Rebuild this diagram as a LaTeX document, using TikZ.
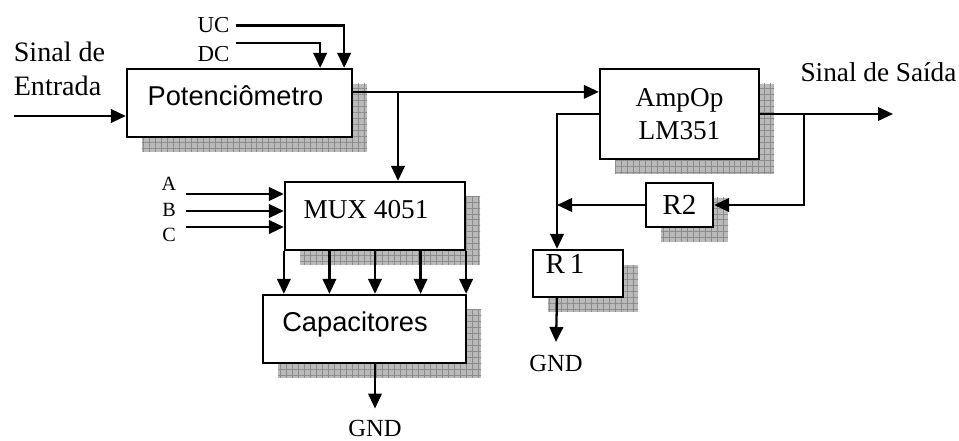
\documentclass[tikz,border=0pt]{standalone}
\usepackage{fontspec}
\setmainfont{Liberation Serif}
\setsansfont{Liberation Sans}
\usetikzlibrary{arrows.meta,positioning,calc,patterns.meta,shadows}

\begin{document}
\begin{tikzpicture}[x=0.2mm,y=-0.2mm,font=\fontsize{15.5}{19}\selectfont]
  \tikzset{blk/.style 2 args={draw,line width=1.3pt,fill=white,inner sep=0pt,minimum width=#1,minimum height=#2,
      general shadow={shadow xshift=3mm,shadow yshift=-3mm,fill=black!27},
      general shadow={shadow xshift=3mm,shadow yshift=-3mm,pattern={Hatch[angle=0,distance=3.4pt,line width=0.5pt]},pattern color=black!45}},
    arr/.style={-{Triangle[length=3mm,width=2.7mm]},line width=1.3pt},
    sfb/.style={font=\fontsize{15.5}{19}\selectfont\sffamily,text height=1.2mm,text depth=0pt},
    ctl/.style={font=\fontsize{13}{15}\selectfont},
    sel/.style={font=\fontsize{11.5}{13}\selectfont},
    gnd/.style={font=\fontsize{14}{16}\selectfont}}
  \useasboundingbox (0,0) rectangle (959,441);
  % blocks
  \node[blk={45mm}{13.6mm},sfb] (pot) at (239.5,103) {Potenciômetro\hspace*{1.6mm}};
  \node[blk={36mm}{13.6mm},text height=1.2mm,text depth=0pt] (mux) at (375,216) {MUX 4051\hspace*{3.6mm}};
  \node[blk={40.6mm}{13.6mm},sfb] (cap) at (364.5,329) {Capacitores\hspace*{3.8mm}};
  \node[blk={31.8mm}{18mm},align=center] (amp) at (679.5,114) {AmpOp\\LM351};
  \node[blk={13.4mm}{8.8mm},font=\fontsize{16.5}{19}\selectfont] (r2) at (679.5,205) {R2};
  \node[blk={18mm}{9.4mm},font=\fontsize{16.5}{19}\selectfont,text height=0pt,text depth=0pt] (r1) at (578,273.5) {R\,1\hspace*{5.2mm}};
  % labels
  \node[align=left,font=\fontsize{16}{19.5}\selectfont] (entrada) at (59.5,69) {Sinal de\\Entrada};
  \node (saida) at (878.5,72) {Sinal de Saída};
  \node[ctl] (uc) at (213.5,25.5) {UC};
  \node[ctl] (dc) at (213.5,54.5) {DC};
  \node[gnd] (gnd1) at (375,428.5) {GND};
  \node[gnd] (gnd2) at (556,363.5) {GND};
  % input side
  \coordinate (in) at (14,116);
  \draw[arr] (in) -- (in -| pot.west);
  \draw[arr] (uc.east) -| ([xshift=-1.8mm]pot.north east);
  \draw[arr] ([yshift=2.3mm]dc.east) -| ([xshift=-6.6mm]pot.north east);
  \coordinate (ain) at ([yshift=-4.8mm]amp.north west);
  \draw[arr] (pot.east |- ain) -- (ain);
  \coordinate (j1) at (398,93);
  \draw[arr] (j1) -- (j1 |- mux.north);
  \foreach \n/\ty/\ay in {A/184/194,B/209.5/211,C/234.5/227} {
    \node[sel] (\n) at (169,\ty) {\n};
    \coordinate (in\n) at (186,\ay);
    \draw[arr] (in\n) -- (in\n -| mux.west);
  }
  \foreach \i in {0,...,4} {
    \coordinate (m\i) at ($(mux.south west)!{\i/4}!(mux.south east)$);
    \draw[arr] (m\i) -- (m\i |- cap.north);
  }
  \draw[arr] (cap.south -| mux.south) -- ([yshift=1.1mm]gnd1.north);
  % amplifier and feedback
  \coordinate (out) at (893,114);
  \draw[arr] (amp.east) -- (out);
  \coordinate (j2) at (804,114);
  \draw[arr] (j2) |- (r2.east);
  \coordinate (j3) at (557,114);
  \draw[arr] (r2.west) -- (r2.west -| j3);
  \draw[arr] (amp.west) -- (j3) -- (j3 |- r1.north);
  \draw[arr] (j3 |- r1.south) -- ([yshift=1.4mm]gnd2.north);
\end{tikzpicture}
\end{document}
